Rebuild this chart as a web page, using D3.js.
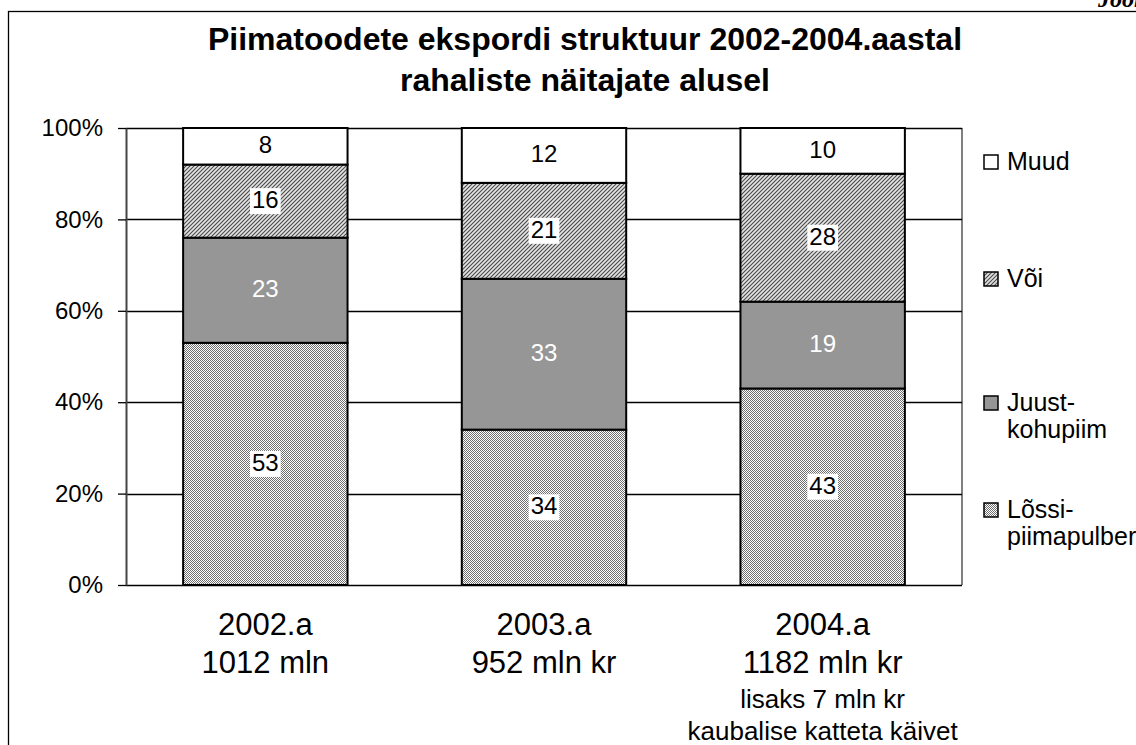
<!DOCTYPE html>
<html>
<head>
<meta charset="utf-8">
<script src="https://cdn.jsdelivr.net/npm/d3@7"></script>
<style>
  body { margin: 0; background: #fff; }
  svg { display: block; font-family: "Liberation Sans", Arial, sans-serif; }
</style>
</head>
<body>
<svg id="chart" width="1136" height="745"></svg>
<script>
// chart data
const years = ['2002.a', '2003.a', '2004.a'];
const yearTotals = ['1012 mln', '952 mln kr', '1182 mln kr'];
const yearNotes = [[], [], ['lisaks 7 mln kr', 'kaubalise katteta käivet']];
const seriesKeys = ['lossi', 'juust', 'voi', 'muud'];
const lossi = [53, 34, 43];
const juust = [23, 33, 19];
const voi = [16, 21, 28];
const muud = [8, 12, 10];
const yTicks = [0, 20, 40, 60, 80, 100];
const legendLines = {
  muud: ['Muud'],
  voi: ['Või'],
  juust: ['Juust-', 'kohupiim'],
  lossi: ['Lõssi-', 'piimapulber']
};

const svg = d3.select('#chart');
const plot = { left: 126, right: 962, top: 128, bottom: 585 };

// patterns
const defs = svg.append('defs');
const dots = defs.append('pattern').attr('id', 'dots')
  .attr('width', 2).attr('height', 2).attr('patternUnits', 'userSpaceOnUse');
dots.append('rect').attr('width', 2).attr('height', 2).attr('fill', '#fff');
dots.append('rect').attr('width', 1).attr('height', 1).attr('fill', '#6e6e6e');
dots.append('rect').attr('x', 1).attr('y', 1).attr('width', 1).attr('height', 1).attr('fill', '#6e6e6e');

const hatch = defs.append('pattern').attr('id', 'hatch')
  .attr('width', 4).attr('height', 4).attr('patternUnits', 'userSpaceOnUse');
hatch.append('rect').attr('width', 4).attr('height', 4).attr('fill', '#e2e2e2');
hatch.append('path').attr('d', 'M-1,1 L1,-1 M0,4 L4,0 M3,5 L5,3')
  .attr('stroke', '#4a4a4a').attr('stroke-width', 1.1);

const fills = { lossi: 'url(#dots)', juust: '#969696', voi: 'url(#hatch)', muud: '#fff' };

// outer frame (runs off the picture on the right and bottom)
svg.append('rect').attr('x', 8.5).attr('y', 11.5).attr('width', 1200).attr('height', 800)
  .attr('fill', 'none').attr('stroke', '#000').attr('stroke-width', 1.3);

svg.append('text').attr('x', 1098).attr('y', 7)
  .attr('font-family', '"Liberation Serif", serif').attr('font-weight', 'bold')
  .attr('font-style', 'italic').attr('font-size', 24).text('Joonis');

// title
const title = svg.append('text').attr('text-anchor', 'middle')
  .attr('font-weight', 'bold').attr('font-size', 32);
title.append('tspan').attr('x', 585).attr('y', 50).text('Piimatoodete ekspordi struktuur 2002-2004.aastal');
title.append('tspan').attr('x', 585).attr('y', 91).text('rahaliste näitajate alusel');

// scales
const x = d3.scaleBand().domain(years).range([plot.left, plot.right])
  .paddingInner(0.41).paddingOuter(0.205);
const y = d3.scaleLinear().domain([0, 100]).range([plot.bottom, plot.top]);

// plot area border
svg.append('line').attr('x1', plot.right).attr('x2', plot.right)
  .attr('y1', plot.top).attr('y2', plot.bottom)
  .attr('stroke', '#808080').attr('stroke-width', 2);

// gridlines
svg.append('g').selectAll('line').data(yTicks).join('line')
  .attr('x1', plot.left).attr('x2', plot.right)
  .attr('y1', d => Math.round(y(d)) + 0.5).attr('y2', d => Math.round(y(d)) + 0.5)
  .attr('stroke', '#000').attr('stroke-width', 1.3);

// y axis
const yAxis = svg.append('g').attr('transform', `translate(${plot.left},0)`)
  .call(d3.axisLeft(y).tickValues(yTicks).tickFormat(d => d + '%')
    .tickSize(8).tickSizeOuter(0).tickPadding(15));
yAxis.select('.domain').attr('stroke', '#444').attr('stroke-width', 2);
yAxis.selectAll('.tick line').attr('stroke', '#000').attr('stroke-width', 1.3);
yAxis.selectAll('.tick text').attr('font-size', 24).attr('fill', '#000')
  .attr('font-family', '"Liberation Sans", Arial, sans-serif');

// stacked bars
const rows = years.map((yr, i) => ({ year: yr, lossi: lossi[i], juust: juust[i], voi: voi[i], muud: muud[i] }));
const stacked = d3.stack().keys(seriesKeys)(rows);

const layers = svg.append('g').selectAll('g').data(stacked).join('g');
layers.selectAll('rect').data(d => d.map(p => ({ key: d.key, p }))).join('rect')
  .attr('x', d => x(d.p.data.year))
  .attr('width', x.bandwidth())
  .attr('y', d => y(d.p[1]))
  .attr('height', d => y(d.p[0]) - y(d.p[1]))
  .attr('fill', d => fills[d.key])
  .attr('stroke', '#000').attr('stroke-width', 2);

// data labels
const labels = svg.append('g');
stacked.forEach(layer => {
  layer.forEach(p => {
    const v = p[1] - p[0];
    const cx = x(p.data.year) + x.bandwidth() / 2;
    const cy = (y(p[0]) + y(p[1])) / 2;
    const g = labels.append('g');
    const t = g.append('text').attr('x', cx).attr('y', cy + 7)
      .attr('text-anchor', 'middle').attr('font-size', 24)
      .attr('fill', layer.key === 'juust' ? '#fff' : '#000').text(v);
    if (layer.key === 'lossi' || layer.key === 'voi') {
      const b = t.node().getBBox();
      g.insert('rect', 'text').attr('x', b.x - 2).attr('y', cy - 13)
        .attr('width', b.width + 4).attr('height', 26).attr('fill', '#fff');
    }
  });
});

// category labels
const cat = svg.append('g').attr('text-anchor', 'middle').attr('fill', '#000');
years.forEach((yr, i) => {
  const cx = x(yr) + x.bandwidth() / 2;
  const t = cat.append('text');
  t.append('tspan').attr('x', cx).attr('y', 635).attr('font-size', 31).text(yr);
  t.append('tspan').attr('x', cx).attr('y', 673).attr('font-size', 31).text(yearTotals[i]);
  yearNotes[i].forEach((line, j) => {
    t.append('tspan').attr('x', cx).attr('y', 708 + j * 32).attr('font-size', 26).text(line);
  });
});

// legend
const legendY = [162, 279, 403, 510];
const legendKeys = seriesKeys.slice().reverse();
const legend = svg.append('g');
legendKeys.forEach((k, i) => {
  const cy = legendY[i];
  legend.append('rect').attr('x', 984).attr('y', cy - 7).attr('width', 14).attr('height', 14)
    .attr('fill', fills[k]).attr('stroke', '#000').attr('stroke-width', 1.5);
  const t = legend.append('text').attr('font-size', 25);
  legendLines[k].forEach((line, j) => {
    t.append('tspan').attr('x', 1007).attr('y', cy + 8 + j * 27).text(line);
  });
});
</script>
</body>
</html>
